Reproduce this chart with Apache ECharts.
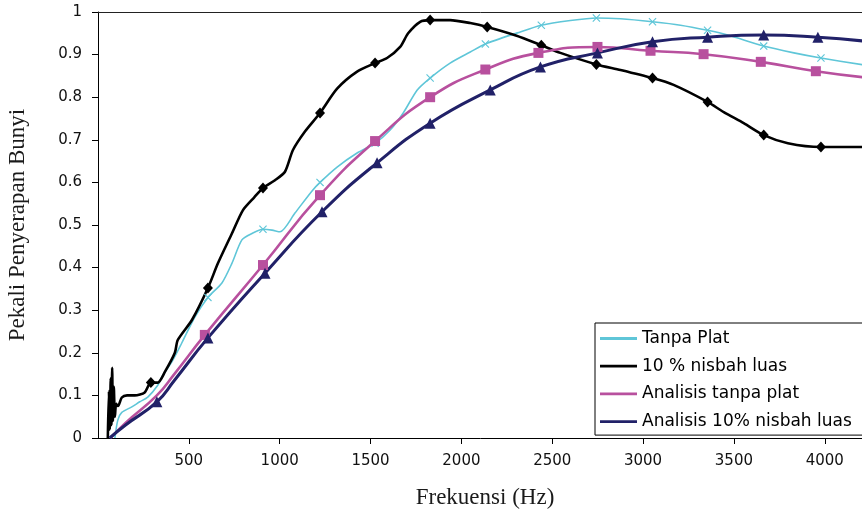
<!DOCTYPE html>
<html>
<head>
<meta charset="utf-8">
<script src="https://cdn.jsdelivr.net/npm/echarts@6/dist/echarts.min.js"></script>
<style>
  html, body { margin: 0; padding: 0; background: #fff; }
  #chart { width: 862px; height: 510px; }
</style>
</head>
<body>
<div id="chart"></div>
<script>
// values: [frekuensi Hz, pekali]
var tanpaPlat = [[93,0],[109,0.042],[131,0.06],[186,0.073],[230,0.085],[274,0.096],[329,0.124],[351,0.143],
  [412,0.183],[461,0.223],[533,0.284],[605,0.33],[682,0.364],[737,0.41],[792,0.465],[847,0.48],[908,0.49],
  [958,0.488],[1002,0.484],[1084,0.528],[1178,0.58],[1222,0.6],[1316,0.636],[1426,0.669],[1525,0.692],
  [1608,0.723],[1680,0.763],[1757,0.817],[1828,0.845],[1938,0.88],[2049,0.906],[2132,0.925],[2308,0.951],
  [2440,0.969],[2600,0.98],[2743,0.986],[2876,0.984],[3052,0.977],[3206,0.969],[3355,0.957],[3466,0.946],
  [3664,0.92],[3830,0.904],[3979,0.892],[4210,0.876]];
var nisbah10 = [[54,0],[60,0.11],[65,0.02],[70,0.14],[74,0.03],[78,0.165],[82,0.04],[87,0.12],[93,0.05],
  [100,0.08],[110,0.075],[131,0.095],[160,0.1],[202,0.1],[257,0.107],[291,0.13],[329,0.13],[368,0.155],
  [423,0.2],[439,0.23],[517,0.277],[605,0.352],[660,0.41],[737,0.48],[798,0.535],[860,0.565],[908,0.587],
  [974,0.605],[1029,0.625],[1073,0.676],[1140,0.72],[1222,0.763],[1316,0.82],[1426,0.86],[1525,0.88],
  [1591,0.892],[1663,0.918],[1707,0.95],[1773,0.977],[1828,0.981],[1938,0.981],[2049,0.974],[2142,0.965],
  [2300,0.945],[2440,0.922],[2545,0.904],[2743,0.877],[2876,0.864],[3052,0.845],[3168,0.829],[3355,0.789],
  [3444,0.765],[3554,0.739],[3664,0.711],[3797,0.692],[3979,0.683],[4210,0.683]];
var analisisTanpa = [[70,0],[150,0.035],[324,0.1],[420,0.15],[588,0.242],[908,0.406],[1222,0.57],[1525,0.697],
  [1828,0.8],[2132,0.865],[2424,0.904],[2749,0.918],[3041,0.909],[3333,0.901],[3648,0.883],
  [3951,0.861],[4210,0.847]];
var analisis10 = [[64,0],[150,0.03],[324,0.085],[420,0.135],[605,0.235],[919,0.387],[1233,0.531],[1536,0.646],
  [1828,0.739],[2159,0.817],[2435,0.871],[2749,0.904],[3052,0.93],[3355,0.941],[3664,0.946],
  [3962,0.941],[4210,0.932]];

// frequencies that carry a marker
var tanpaPlatMarks = [605,908,1222,1525,1828,2132,2440,2743,3052,3355,3664,3979];
var nisbah10Marks = [291,605,908,1222,1525,1828,2142,2440,2743,3052,3355,3664,3979];
var analisisTanpaMarks = [588,908,1222,1525,1828,2132,2424,2749,3041,3333,3648,3951];
var analisis10Marks = [324,605,919,1233,1536,1828,2159,2435,2749,3052,3355,3664,3962];

var names = ['Tanpa Plat', '10 % nisbah luas', 'Analisis tanpa plat', 'Analisis 10% nisbah luas'];
var xTicks = { min: 0, max: 4260, interval: 500 };
var yTicks = { min: 0, max: 1, interval: 0.1 };

var cyan = '#5fc6d8', black = '#000000', pink = '#b8509e', navy = '#212168';
var xPath = 'path://M0,1L1,0L5,4L9,0L10,1L6,5L10,9L9,10L5,6L1,10L0,9L4,5Z';
var barIcon = 'path://M0,0H40V3H0Z';

function pick(line, marks) {
  return marks.map(function (f) {
    return line.find(function (p) { return p[0] === f; });
  });
}

function lineSeries(name, data, color, width, smooth) {
  return {
    name: name, type: 'line', data: data, symbol: 'none',
    smooth: smooth,
    lineStyle: { color: color, width: width },
    itemStyle: { color: color }
  };
}

function markSeries(name, data, color, symbol, size) {
  return {
    name: name, type: 'scatter', data: data, symbol: symbol, symbolSize: size,
    itemStyle: { color: color, opacity: 1 }, z: 3
  };
}

var chart = echarts.init(document.getElementById('chart'), null, { renderer: 'canvas' });

var tickFont = { fontFamily: 'DejaVu Sans', fontSize: 15, color: '#111' };
var nameFont = { fontFamily: 'Liberation Serif', fontSize: 23, color: '#1a1a1a' };

var option = {
  animation: false,
  grid: { left: 98, right: -10, top: 12, bottom: 72, outerBoundsMode: 'none' },
  legend: {
    data: names.map(function (n) { return { name: n, icon: barIcon }; }),
    orient: 'vertical',
    left: 595, top: 323,
    padding: [7, 25, 5, 5],
    itemWidth: 37, itemHeight: 3, itemGap: 10.7,
    borderColor: '#000', borderWidth: 1,
    backgroundColor: '#fff',
    textStyle: { fontFamily: 'DejaVu Sans', fontSize: 17, color: '#000', lineHeight: 16 }
  },
  xAxis: [{
    type: 'value', min: xTicks.min, max: xTicks.max, interval: xTicks.interval,
    name: 'Frekuensi (Hz)', nameLocation: 'middle', nameGap: 48, nameTextStyle: nameFont,
    axisLine: { lineStyle: { color: '#000', width: 1 } },
    axisTick: { show: true, length: 6, lineStyle: { color: '#000' } },
    axisLabel: Object.assign({
      margin: 16, showMinLabel: false, showMaxLabel: false,
      formatter: function (v) { return String(v); }
    }, tickFont),
    splitLine: { show: false }
  }, {
    type: 'value', position: 'top', min: xTicks.min, max: xTicks.max,
    axisLine: { show: true, lineStyle: { color: '#222', width: 1 } },
    axisTick: { show: false }, axisLabel: { show: false }, splitLine: { show: false }
  }],
  yAxis: {
    type: 'value', min: yTicks.min, max: yTicks.max, interval: yTicks.interval,
    name: 'Pekali Penyerapan Bunyi', nameLocation: 'middle', nameGap: 69, nameTextStyle: nameFont,
    axisLine: { show: true, lineStyle: { color: '#000', width: 1 } },
    axisTick: { show: true, length: 6, lineStyle: { color: '#000' } },
    axisLabel: Object.assign({
      margin: 16,
      formatter: function (v) { return String(Math.round(v * 10) / 10); }
    }, tickFont),
    splitLine: { show: false }
  },
  series: [
    lineSeries(names[0], tanpaPlat, cyan, 1.6, 0.25),
    lineSeries(names[1], nisbah10, black, 2.6, 0.25),
    lineSeries(names[2], analisisTanpa, pink, 2.6, 0.5),
    lineSeries(names[3], analisis10, navy, 3, 0.5),
    markSeries('m0', pick(tanpaPlat, tanpaPlatMarks), cyan, xPath, 8),
    markSeries('m1', pick(nisbah10, nisbah10Marks), black, 'diamond', [10, 11]),
    markSeries('m2', pick(analisisTanpa, analisisTanpaMarks), pink, 'rect', 10),
    markSeries('m3', pick(analisis10, analisis10Marks), navy, 'triangle', 11)
  ]
};
chart.setOption(option);
</script>
</body>
</html>
